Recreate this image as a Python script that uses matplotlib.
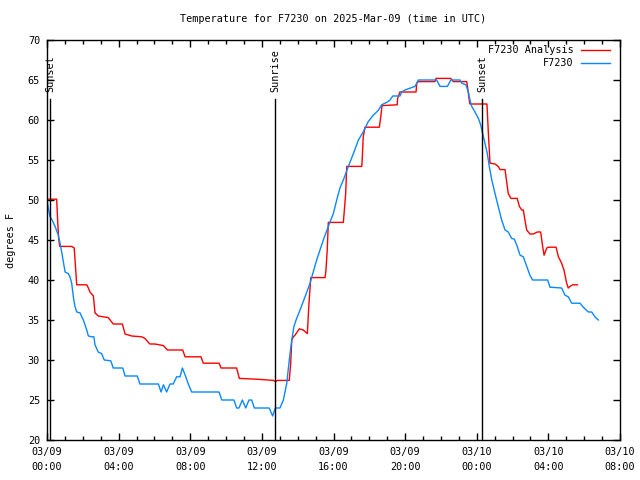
import numpy as np
import pandas as pd
import matplotlib
matplotlib.use("Agg")
import matplotlib.pyplot as plt
import matplotlib.dates as mdates

plt.rcParams['font.family'] = ['DejaVu Sans Mono', 'DejaVu Sans']

# Hours since 2025-03-09 00:00 UTC and temperatures (deg F)
analysis_hours = [0.0, 0.54, 0.60, 0.65, 0.71, 1.38, 1.52, 1.66, 2.22, 2.31, 2.40, 2.59, 2.68, 2.86,
                  3.14, 3.42, 3.70, 4.21, 4.36, 4.73, 5.29, 5.47, 5.74, 6.03, 6.50, 6.72, 7.58, 7.71,
                  8.60, 8.73, 9.61, 9.72, 10.59, 10.74, 11.71, 12.64, 12.77, 12.86, 13.53, 13.61,
                  13.67, 13.76, 13.85, 14.09, 14.31, 14.54, 14.62, 14.69, 14.73, 15.53, 15.58, 15.65,
                  15.71, 16.55, 16.59, 16.68, 16.74, 17.58, 17.61, 17.66, 17.76, 18.56, 18.64, 18.71,
                  19.56, 19.58, 19.71, 20.61, 20.65, 20.74, 21.67, 21.72, 22.55, 22.69, 23.44, 23.47,
                  23.58, 23.62, 24.57, 24.65, 24.74, 25.02, 25.20, 25.30, 25.58, 25.67, 25.76, 25.91,
                  26.26, 26.38, 26.51, 26.60, 26.69, 26.79, 26.97, 27.16, 27.38, 27.57, 27.68, 27.76,
                  27.91, 28.00, 28.43, 28.56, 28.74, 28.87, 29.02, 29.11, 29.21, 29.36, 29.62]
analysis_temps = [50.1, 50.1, 47.2, 45.2, 44.2, 44.2, 44.0, 39.4, 39.4, 39.0, 38.5, 38.0, 35.9, 35.5,
                  35.4, 35.3, 34.5, 34.5, 33.25, 33.0, 32.9, 32.7, 32.0, 32.0, 31.8, 31.25, 31.25, 30.4,
                  30.4, 29.6, 29.6, 29.0, 29.0, 27.7, 27.6, 27.45, 27.3, 27.45, 27.45, 29.6,
                  32.5, 32.9, 33.1, 33.9, 33.75, 33.3, 36.7, 39.0, 40.3, 40.3, 41.25, 43.75,
                  47.2, 47.2, 48.3, 50.8, 54.2, 54.2, 55.4, 57.9, 59.1, 59.1, 60.4, 61.8,
                  61.9, 62.7, 63.5, 63.5, 64.6, 64.8, 64.8, 65.2, 65.2, 64.8, 64.8, 64.4,
                  62.5, 62.0, 62.0, 58.3, 54.6, 54.5, 54.2, 53.8, 53.8, 52.3, 50.8, 50.2,
                  50.2, 49.2, 48.75, 48.75, 47.5, 46.25, 45.75, 45.75, 46.0, 46.0, 44.2, 43.1,
                  44.0, 44.1, 44.1, 42.9, 42.1, 41.25, 39.6, 39.0, 39.2, 39.4, 39.4]

obs_hours = [0.0, 0.07, 0.17, 0.26, 0.45, 0.63, 0.73, 0.82, 0.91, 1.01, 1.19, 1.28, 1.38, 1.47, 1.56,
             1.66, 1.84, 2.03, 2.22, 2.31, 2.50, 2.62, 2.68, 2.86, 3.05, 3.20, 3.56, 3.70, 4.23, 4.36,
             5.04, 5.19, 6.22, 6.37, 6.50, 6.68, 6.87, 7.05, 7.24, 7.43, 7.56, 7.75, 7.89, 8.08, 9.61,
             9.76, 10.44, 10.59, 10.72, 10.91, 11.10, 11.28, 11.43, 11.58, 12.41, 12.60, 12.75, 13.01,
             13.20, 13.39, 13.53, 13.67, 13.79, 13.91, 14.13, 14.41, 14.69, 15.06, 15.43, 15.71, 15.99,
             16.18, 16.36, 16.55, 16.83, 17.11, 17.39, 17.66, 17.94, 18.22, 18.50, 18.69, 18.97, 19.16,
             19.31, 19.71, 19.81, 19.99, 20.55, 20.74, 21.76, 21.95, 22.36, 22.55, 23.07, 23.16, 23.40,
             23.53, 23.62, 23.72, 23.90, 24.09, 24.22, 24.33, 24.46, 24.59, 24.70, 24.84, 25.02, 25.20,
             25.39, 25.58, 25.76, 25.95, 26.10, 26.26, 26.42, 26.60, 26.79, 26.97, 27.12, 27.96, 28.09,
             28.74, 28.93, 29.11, 29.30, 29.77, 29.95, 30.23, 30.42, 30.60, 30.79]
obs_temps = [50.1, 49.0, 47.9, 47.6, 46.7, 45.6, 44.6, 43.5, 42.3, 41.0, 40.8, 40.4, 39.6, 37.9, 36.7,
             36.0, 35.9, 35.0, 33.75, 33.0, 32.9, 32.9, 31.9, 31.0, 30.8, 30.0, 29.9, 29.0, 29.0, 28.0,
             28.0, 27.0, 27.0, 26.0, 26.9, 26.0, 27.0, 27.0, 27.9, 27.9, 29.0, 27.9, 27.0, 26.0, 26.0,
             25.0, 25.0, 24.0, 24.0, 25.0, 24.0, 25.0, 25.0, 24.0, 24.0, 23.0, 24.0, 24.0,
             25.0, 27.1, 30.0, 32.5, 34.2, 35.0, 36.25, 37.9, 39.6, 42.5, 45.0, 46.7, 48.3,
             50.0, 51.5, 52.5, 54.2, 55.8, 57.5, 58.5, 59.8, 60.6, 61.2, 61.9, 62.2, 62.5,
             63.0, 63.0, 63.5, 63.75, 64.2, 65.0, 65.0, 64.2, 64.2, 65.0, 65.0, 64.6, 64.4,
             63.5, 62.5, 61.7, 61.0, 60.2, 59.4, 58.3, 57.1, 55.8, 54.2, 52.5, 50.8, 49.2,
             47.5, 46.25, 46.0, 45.2, 45.1, 44.2, 43.1, 42.9, 41.7, 40.6, 40.0, 40.0, 39.1,
             39.0, 38.1, 37.9, 37.1, 37.1, 36.6, 36.0, 36.0, 35.4, 35.0]

sun_hours = [0.17, 12.76, 24.31]
sun_labels = ["Sunset", "Sunrise", "Sunset"]

FS = 7.3

base = pd.Timestamp("2025-03-09 00:00")
def to_dt(hrs):
    return [base + pd.Timedelta(hours=h) for h in hrs]

fig = plt.figure(figsize=(6.4, 4.8), dpi=100)
ax = fig.add_axes([47/640, 40/480, 573/640, 400/480])

ax.plot(to_dt(analysis_hours), analysis_temps, color='#ff0000', lw=1.0, label='F7230 Analysis')
ax.plot(to_dt(obs_hours), obs_temps, color='#0a88ff', lw=1.0, label='F7230')

for h, lab in zip(sun_hours, sun_labels):
    t = base + pd.Timedelta(hours=h)
    ax.plot([t, t], [20, 62.6], color='black', lw=1.0)
    ax.text(t, 63.5, lab, rotation=90, ha='center', va='bottom', fontsize=FS)

ax.set_xlim(base, base + pd.Timedelta(hours=32))
ax.set_ylim(20, 70)
ax.set_yticks(np.arange(20, 71, 5))
ax.xaxis.set_major_locator(mdates.HourLocator(byhour=[0, 4, 8, 12, 16, 20]))
ax.xaxis.set_minor_locator(mdates.HourLocator())
ax.xaxis.set_major_formatter(mdates.DateFormatter('%m/%d\n%H:%M'))

ax.tick_params(axis='both', which='major', direction='in', length=5, width=1,
               top=True, right=True, labelsize=FS, pad=5)
ax.tick_params(axis='both', which='minor', direction='in', length=3, width=1,
               top=True, right=True)
for lbl in ax.get_xticklabels():
    lbl.set_linespacing(1.6)
for sp in ax.spines.values():
    sp.set_linewidth(1.0)

ax.set_ylabel('degrees F', fontsize=FS, labelpad=8.5)
ax.set_title('Temperature for F7230 on 2025-Mar-09 (time in UTC)', fontsize=FS, pad=13)

ax.legend(loc='upper right', bbox_to_anchor=(1 - 3/573, 1 + 2/400), frameon=False,
          markerfirst=False, fontsize=FS, handlelength=2.9, borderaxespad=0.3,
          borderpad=0.4, labelspacing=0.3, handletextpad=0.7)

fig.savefig('out.png', dpi=100)
